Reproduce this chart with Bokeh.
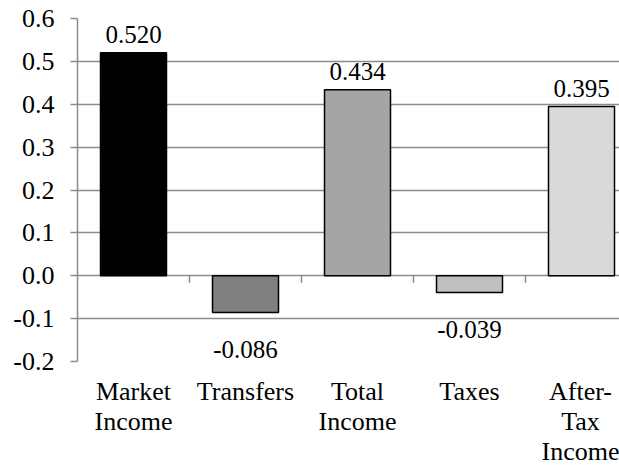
from bokeh.plotting import figure
from bokeh.models import Range1d, FixedTicker, NumeralTickFormatter, ColumnDataSource
from bokeh.embed import file_html
from bokeh.resources import INLINE
from bokeh.core.properties import value

categories = ["Market\nIncome", "Transfers", "Total\nIncome", "Taxes", "After-\nTax\nIncome"]
values = [0.520, -0.086, 0.434, -0.039, 0.395]
labels = ["0.520", "-0.086", "0.434", "-0.039", "0.395"]
colors = ["#000000", "#7f7f7f", "#a5a5a5", "#bfbfbf", "#d9d9d9"]
y_ticks = [-0.2, -0.1, 0.0, 0.1, 0.2, 0.3, 0.4, 0.5, 0.6]

FONT = "Liberation Serif"
GRID = "#8c8c8c"

n = len(categories)
centers = [i + 0.5 for i in range(n)]
frame_w = 542
frame_h = 343
cat_px = 112
x_end = frame_w / cat_px

p = figure(width=619, height=468, output_backend="svg", toolbar_location=None,
           x_range=Range1d(0, x_end), y_range=Range1d(-0.2, 0.6),
           min_border_left=77, min_border_right=0, min_border_top=18, min_border_bottom=107)
p.outline_line_color = None
p.background_fill_color = "white"
p.border_fill_color = "white"

src = ColumnDataSource(dict(x=centers, top=values, color=colors, label=labels))
p.vbar(x="x", top="top", bottom=0, width=66 / cat_px, fill_color="color",
       line_color="#000000", line_width=1.5, source=src)

# value labels
pos_idx = [i for i, v in enumerate(values) if v >= 0]
neg_idx = [i for i, v in enumerate(values) if v < 0]
p.text(x=[centers[i] for i in pos_idx], y=[values[i] for i in pos_idx],
       text=[labels[i] for i in pos_idx], text_font=value(FONT), text_font_size="25px",
       text_align="center", text_baseline="alphabetic", y_offset=-18, text_color="#000000")
p.text(x=[centers[i] for i in neg_idx], y=[values[i] for i in neg_idx],
       text=[labels[i] for i in neg_idx], text_font=value(FONT), text_font_size="25px",
       text_align="center", text_baseline="alphabetic", y_offset=37, text_color="#000000")

# category boundary ticks on the zero line
tick_len = 7 / (frame_h / 0.8)
bounds = [float(i) for i in range(1, n)]
p.segment(x0=bounds, y0=[0.0] * len(bounds), x1=bounds, y1=[-tick_len] * len(bounds),
          line_color=GRID, line_width=1.5)

# y axis
p.yaxis.ticker = FixedTicker(ticks=y_ticks)
p.yaxis.formatter = NumeralTickFormatter(format="0.0")
p.yaxis.axis_line_color = GRID
p.yaxis.axis_line_width = 1.5
p.yaxis.major_tick_line_color = GRID
p.yaxis.major_tick_line_width = 1.5
p.yaxis.major_tick_in = 0
p.yaxis.major_tick_out = 7
p.yaxis.minor_tick_line_color = None
p.yaxis.major_label_text_font = FONT
p.yaxis.major_label_text_font_size = "26px"
p.yaxis.major_label_text_color = "#000000"
p.yaxis.major_label_standoff = 16

p.ygrid.ticker = FixedTicker(ticks=y_ticks)
p.ygrid.grid_line_color = GRID
p.ygrid.grid_line_width = 1.5
p.xgrid.grid_line_color = None

# x axis with category labels
p.xaxis.ticker = FixedTicker(ticks=centers)
p.xaxis.major_label_overrides = {c: lab for c, lab in zip(centers, categories)}
p.xaxis.axis_line_color = None
p.xaxis.major_tick_line_color = None
p.xaxis.minor_tick_line_color = None
p.xaxis.major_tick_out = 0
p.xaxis.major_tick_in = 0
p.xaxis.major_label_text_font = FONT
p.xaxis.major_label_text_font_size = "26px"
p.xaxis.major_label_text_color = "#000000"
p.xaxis.major_label_text_line_height = 1.04
p.xaxis.major_label_standoff = 15

open("out.html", "w").write(file_html(p, INLINE))
